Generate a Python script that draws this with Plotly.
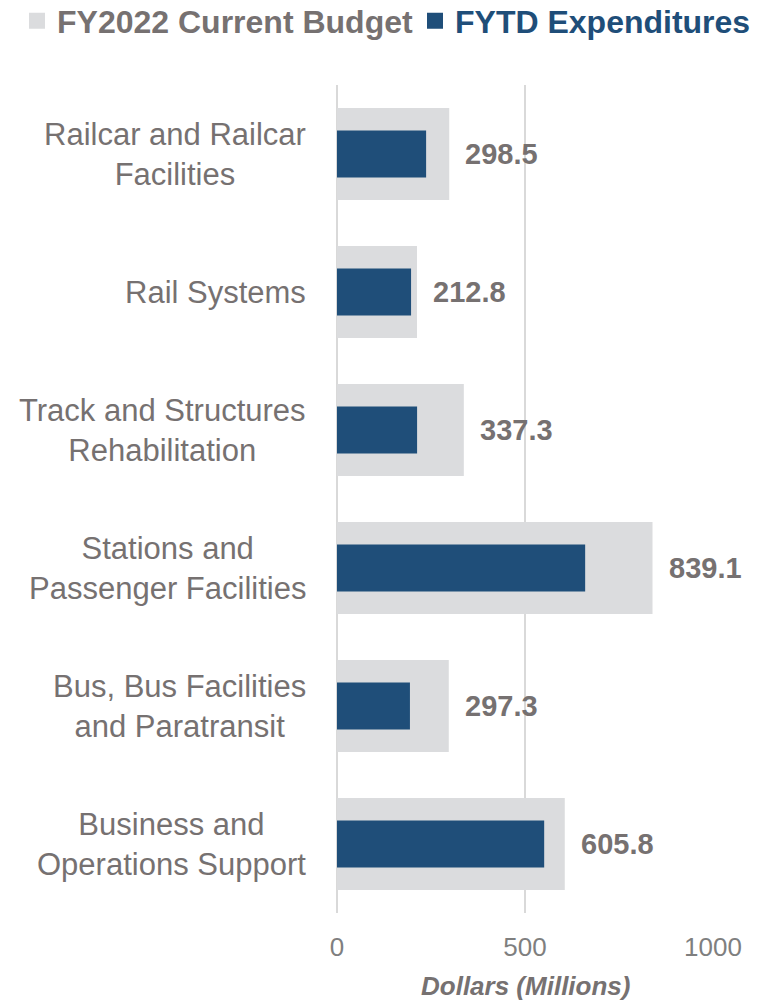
import plotly.graph_objects as go

categories = [
    "Railcar and Railcar<br>Facilities",
    "Rail Systems",
    "Track and Structures<br>Rehabilitation",
    "Stations and<br>Passenger Facilities",
    "Bus, Bus Facilities<br>and Paratransit",
    "Business and<br>Operations Support",
]
budget = [298.5, 212.8, 337.3, 839.1, 297.3, 605.8]
fytd = [237, 197, 213, 660, 194, 551]
x_ticks = [0, 500, 1000]

GRAY_BAR = "#DBDCDE"
NAVY = "#1F4E79"
TEXT_GRAY = "#767171"
TICK_GRAY = "#7F7F7F"
FONT = "Liberation Sans, Arial, sans-serif"

fig = go.Figure()
fig.add_trace(go.Bar(
    y=categories, x=budget, orientation="h", width=0.667,
    marker=dict(color=GRAY_BAR, line=dict(width=0)),
    name="FY2022 Current Budget", showlegend=False, hoverinfo="x",
))
fig.add_trace(go.Bar(
    y=categories, x=fytd, orientation="h", width=0.34,
    marker=dict(color=NAVY, line=dict(width=0)),
    name="FYTD Expenditures", showlegend=False, hoverinfo="x",
))
# legend entries
fig.add_trace(go.Scatter(
    x=[None], y=[None], mode="markers",
    marker=dict(symbol="square", size=16, color=GRAY_BAR, line=dict(width=0)),
    name="<b>FY2022 Current Budget</b>", legend="legend",
))
fig.add_trace(go.Scatter(
    x=[None], y=[None], mode="markers",
    marker=dict(symbol="square", size=16, color=NAVY, line=dict(width=0)),
    name="<b>FYTD Expenditures</b>", legend="legend2",
))

annotations = []
for c, v in zip(categories, budget):
    annotations.append(dict(
        x=v, y=c, xref="x", yref="y", text="<b>%.1f</b>" % v,
        showarrow=False, xanchor="left", yanchor="middle", xshift=14,
        font=dict(family=FONT, size=29, color=TEXT_GRAY),
    ))
for c in categories:
    annotations.append(dict(
        x=0, y=c, xref="paper", yref="y", text=c, align="center",
        showarrow=False, xanchor="right", yanchor="middle", xshift=-29,
        font=dict(family=FONT, size=31, color=TEXT_GRAY),
    ))
annotations.append(dict(
    x=0.5, y=0, xref="paper", yref="paper", text="<b><i>Dollars (Millions)</i></b>",
    showarrow=False, xanchor="center", yanchor="middle", yshift=-73,
    font=dict(family=FONT, size=26, color=TEXT_GRAY),
))

legend_common = dict(
    orientation="h", xref="container", yref="container",
    yanchor="middle", xanchor="left", y=1 - 21 / 1000,
    itemwidth=30, bgcolor="rgba(0,0,0,0)", borderwidth=0,
)

fig.update_layout(
    width=762, height=1000,
    margin=dict(l=337, r=49, t=85, b=87),
    paper_bgcolor="white", plot_bgcolor="white",
    barmode="overlay",
    font=dict(family=FONT, color=TEXT_GRAY),
    showlegend=True,
    legend=dict(
        x=17 / 762, font=dict(family=FONT, size=32, color=TEXT_GRAY),
        **legend_common,
    ),
    legend2=dict(
        x=415 / 762, font=dict(family=FONT, size=32, color=NAVY),
        **legend_common,
    ),
    xaxis=dict(
        range=[0, 1000], tickvals=x_ticks, ticktext=[str(t) for t in x_ticks],
        showgrid=True, gridcolor="#D9D9D9", gridwidth=2,
        zeroline=True, zerolinecolor="#D9D9D9", zerolinewidth=2,
        showline=False, ticks="", ticklabelstandoff=16,
        tickfont=dict(family=FONT, size=26, color=TICK_GRAY),
    ),
    yaxis=dict(
        autorange="reversed", showticklabels=False, showgrid=False,
        zeroline=False, showline=False, ticks="",
    ),
    annotations=annotations,
)

fig.write_html("out.html")
